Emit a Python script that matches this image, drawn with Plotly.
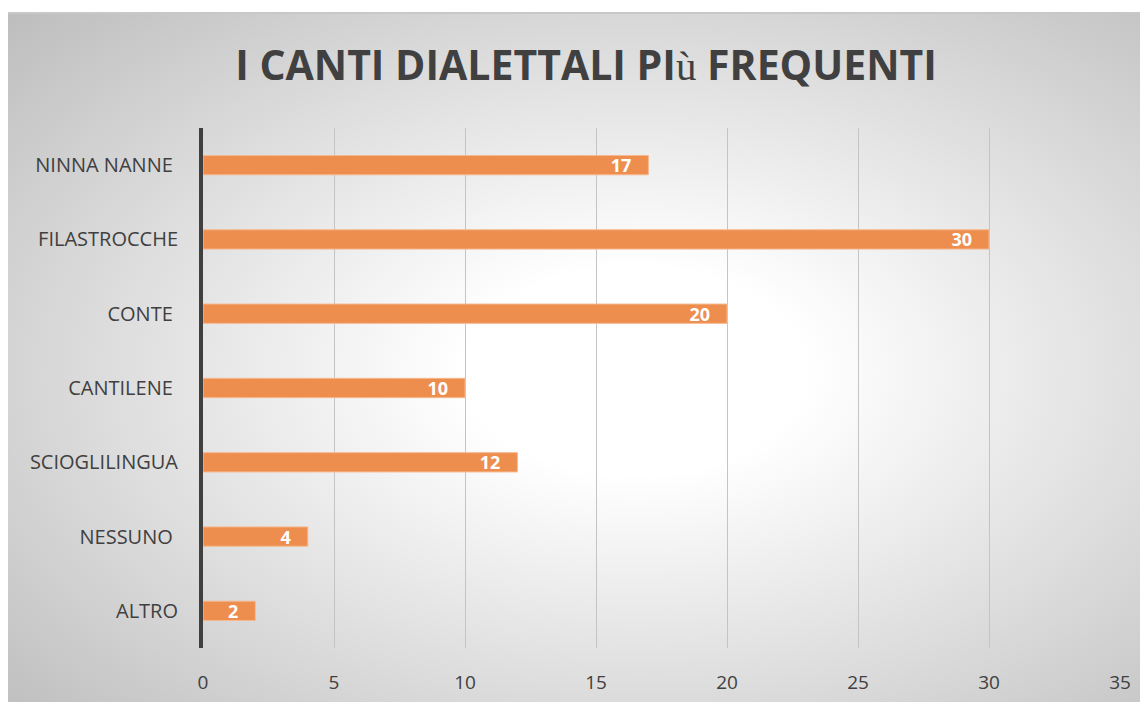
import plotly.graph_objects as go
import urllib.parse

categories = ["NINNA NANNE\u00a0", "FILASTROCCHE", "CONTE\u00a0", "CANTILENE\u00a0",
              "SCIOGLILINGUA", "NESSUNO\u00a0", "ALTRO"]
values = [17, 30, 20, 10, 12, 4, 2]
x_ticks = [0, 5, 10, 15, 20, 25, 30, 35]

# page is rendered with an 8px body margin; figure coords = page coords - 8
W, H = 1140, 694
ML, MR, MT, MB = 195, 28, 120, 54
PW, PH = W - ML - MR, H - MT - MB
FRAME_TOP = 5

def px_to_paper_x(px):
    return (px - ML) / PW

def px_to_paper_y(py):
    return (H - MB - py) / PH

svg = ('<svg xmlns="http://www.w3.org/2000/svg" width="1140" height="689" preserveAspectRatio="none">'
       '<defs><radialGradient id="g" cx="55%" cy="52%" r="75%">'
       '<stop offset="0%" stop-color="#ffffff"/>'
       '<stop offset="20%" stop-color="#ffffff"/>'
       '<stop offset="100%" stop-color="#bebebe"/>'
       '</radialGradient></defs>'
       '<rect width="1140" height="689" fill="url(#g)"/></svg>')
bg_src = "data:image/svg+xml;charset=utf-8," + urllib.parse.quote(svg)

fig = go.Figure()
fig.add_trace(go.Bar(
    y=categories, x=values, orientation="h",
    marker=dict(color="#EE8E4E", line=dict(color="#F6B98F", width=1)),
    width=0.26,
    text=[f"{v}\u00a0\u00a0\u00a0" for v in values],
    textposition="inside", insidetextanchor="end", textangle=0,
    textfont=dict(family="Open Sans", size=18, color="white", weight="bold"),
    constraintext="none",
    cliponaxis=False,
))

fig.add_layout_image(dict(
    source=bg_src, xref="paper", yref="paper",
    x=px_to_paper_x(0), y=px_to_paper_y(FRAME_TOP),
    sizex=px_to_paper_x(W) - px_to_paper_x(0),
    sizey=px_to_paper_y(FRAME_TOP) - px_to_paper_y(H),
    sizing="stretch", xanchor="left", yanchor="top", layer="below",
))

fig.add_shape(type="line", xref="paper", yref="paper",
              x0=px_to_paper_x(0), x1=px_to_paper_x(W),
              y0=px_to_paper_y(FRAME_TOP), y1=px_to_paper_y(FRAME_TOP),
              line=dict(color="#c8c8c8", width=2))

fig.update_layout(
    width=W, height=H,
    margin=dict(l=ML, r=MR, t=MT, b=MB, autoexpand=False),
    paper_bgcolor="white", plot_bgcolor="rgba(0,0,0,0)",
    showlegend=False,
    title=dict(
        text='I CANTI DIALETTALI PI<span style="font-family:\'Liberation Serif\';font-weight:normal">ù</span> FREQUENTI',
        x=578 / W, xanchor="center", y=1 - 58 / H, yanchor="middle",
        font=dict(family="Open Sans", size=41, color="#404040", weight="bold"),
    ),
    font=dict(family="Open Sans", color="#404040"),
    xaxis=dict(range=[0, 35], tickvals=x_ticks, showgrid=True, gridcolor="#c4c4c4", gridwidth=1,
               zeroline=False, showline=False, ticks="", tickfont=dict(size=19, color="#404040"),
               ticklabelstandoff=21, fixedrange=True, automargin=False),
    yaxis=dict(autorange="reversed", showgrid=False, showline=True, linecolor="#404040", linewidth=4,
               ticks="", tickfont=dict(size=20, color="#404040"), ticklabelstandoff=17,
               fixedrange=True, automargin=False),
)

fig.write_html("out.html")
